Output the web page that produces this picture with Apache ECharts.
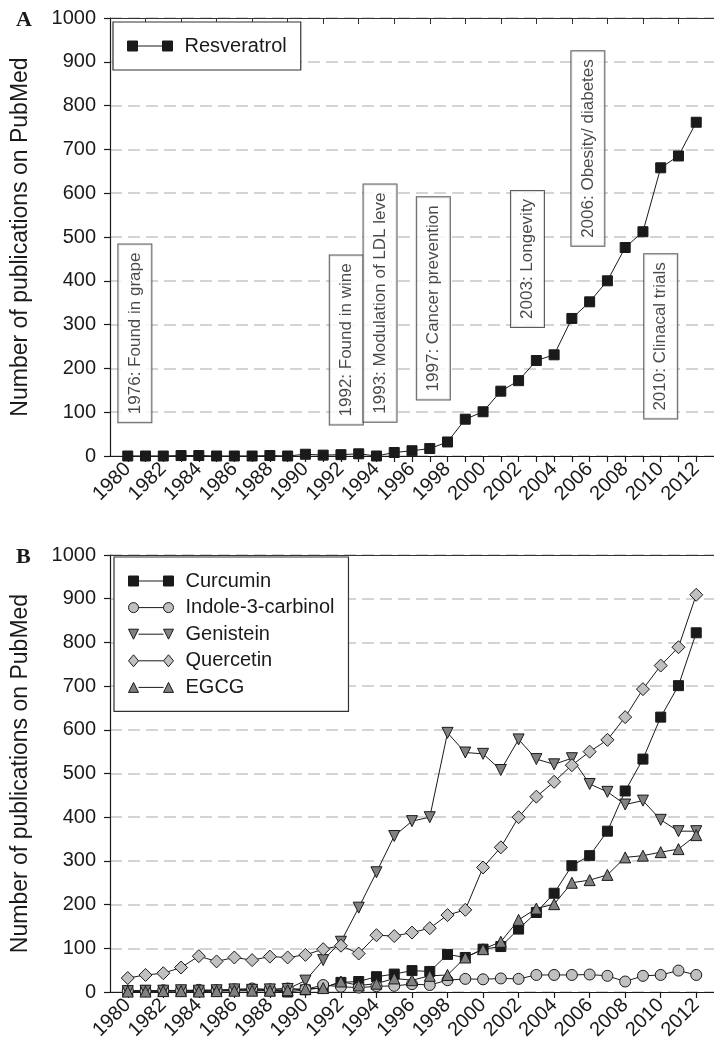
<!DOCTYPE html>
<html>
<head>
<meta charset="utf-8">
<script src="https://cdn.jsdelivr.net/npm/echarts@6/dist/echarts.min.js"></script>
<style>
html,body{margin:0;padding:0;background:#fff;}
#chart{width:714px;height:1044px;}
</style>
</head>
<body>
<div id="chart"></div>
<script>
const years = [1980,1981,1982,1983,1984,1985,1986,1987,1988,1989,1990,1991,1992,1993,1994,1995,1996,1997,1998,1999,2000,2001,2002,2003,2004,2005,2006,2007,2008,2009,2010,2011,2012];
const yTicks = [0,100,200,300,400,500,600,700,800,900,1000];
const labelYears = [1980,1982,1984,1986,1988,1990,1992,1994,1996,1998,2000,2002,2004,2006,2008,2010,2012];
const topTickYears = [1981,1983,1985,1987,1989,1991,1993,1995,1997,1999,2001,2003,2005,2007,2009,2011];

const resveratrol = [0,0,0,1,1,0,0,0,1,0, 4,2,3,5,0, 8,12,17,32,84, 101,148,172,218,231, 314,352,400,476,512, 658,685,762];
const curcumin    = [2,3,2,3,2,3,4,5,3,0, 5,10,22,24,35, 41,49,47,86,79, 98,104,144,182,226, 289,312,368,460,533, 629,701,822];
const indole      = [3,2,4,3,5,4,6,8,6,8, 6,16,12,10,13, 14,18,16,27,30, 29,31,30,39,39, 39,40,37,24,37, 39,49,39];
const genistein   = [2,3,3,4,3,4,6,5,6,7, 26,73,115,193,274, 357,391,400,593,548, 545,508,578,533,521, 535,476,458,429,438, 394,368,368];
const quercetin   = [32,39,43,56,82,70,79,73,81,79, 85,98,106,88,130, 128,136,146,176,188, 285,331,400,447,481, 519,550,577,629,693, 747,789,909];
const egcg        = [1,1,2,2,1,2,3,3,3,4, 7,9,24,15,19, 31,27,37,39,79, 98,115,165,191,201, 250,256,268,308,312, 320,327,359];

const annYears  = [1980.4, 1992.3, 1994.2, 1997.2, 2002.5, 2005.9, 2010.0];
const annValues = [280, 265, 349, 360, 450, 702, 273];
const annTexts  = ['1976: Found in grape','1992: Found in wine','1993: Modulation of LDL leve','1997: Cancer prevention','2003: Longevity','2006: Obesity/ diabetes','2010: Clinacal trials'];

const FONT = 'Liberation Sans, Arial, Helvetica, sans-serif';
const INK = '#1a1a1a';
const LIGHT = '#c0c0c0';
const DARK = '#808080';

const pair = vals => years.map((y, i) => [y, vals[i]]);
const plain = v => String(v);

const iconSquare = 'path://M0,1h10v10h-10z M10,6L35,6 M35,1h10v10h-10z';
const iconCircle = 'path://M0,6a5,5 0 1,0 10,0a5,5 0 1,0 -10,0z M10,6L35,6 M35,6a5,5 0 1,0 10,0a5,5 0 1,0 -10,0z';
const iconTriDown = 'path://M0,1h10l-5,10z M10,6L35,6 M35,1h10l-5,10z';
const iconDiamond = 'path://M5,0l5,6l-5,6l-5,-6z M10,6L35,6 M40,0l5,6l-5,6l-5,-6z';
const iconTriUp = 'path://M5,1l5,10h-10z M10,6L35,6 M40,1l5,10h-10z';

function bottomX(gridIndex, tickYears) {
  return {
    type: 'value', gridIndex, position: 'bottom', min: 1979, max: 2013,
    axisLine: {show: true, onZero: false, lineStyle: {color: INK, width: 1.2}},
    axisTick: {show: true, length: 6, inside: false, customValues: tickYears, lineStyle: {color: INK, width: 1.2}},
    axisLabel: {show: true, customValues: labelYears, formatter: plain, rotate: 45, margin: 10, fontSize: 20, fontFamily: FONT, color: INK},
    splitLine: {show: false}
  };
}
function topX(gridIndex, ticks) {
  return {
    type: 'value', gridIndex, position: 'top', min: 1979, max: 2013,
    axisLine: {show: true, onZero: false, lineStyle: {color: '#333', width: 1.2}},
    axisTick: ticks ? {show: true, inside: true, length: 6, customValues: topTickYears, lineStyle: {color: '#333'}} : {show: false},
    axisLabel: {show: false}, splitLine: {show: false}
  };
}
function leftY(gridIndex) {
  return {
    type: 'value', gridIndex, min: 0, max: 1000, interval: 100,
    name: 'Number of publications on PubMed', nameLocation: 'middle', nameGap: 78,
    nameTextStyle: {fontSize: 23, fontFamily: FONT, color: INK},
    axisLine: {show: true, lineStyle: {color: INK, width: 1.2}},
    axisTick: {show: true, length: 6, lineStyle: {color: INK, width: 1.2}},
    axisLabel: {fontSize: 20, fontFamily: FONT, color: INK, margin: 14, formatter: plain},
    splitLine: {show: true, lineStyle: {color: '#c6c6c6', width: 1.5, type: [12, 6]}}
  };
}
function lineSeries(name, vals, symbol, size, fill, axisIdx, rotate) {
  return {
    name, type: 'line', xAxisIndex: axisIdx, yAxisIndex: axisIdx === 0 ? 0 : 1,
    data: pair(vals), symbol, symbolSize: size, symbolRotate: rotate || 0, showAllSymbol: true,
    lineStyle: {color: INK, width: 1},
    itemStyle: {color: fill, borderColor: INK, borderWidth: 1},
    emphasis: {disabled: true}, animation: false
  };
}

const option = {
  animation: false,
  backgroundColor: '#fff',
  title: [
    {text: 'A', left: 11, top: 4, textStyle: {fontFamily: 'Liberation Serif, Times New Roman, serif', fontWeight: 'bold', fontSize: 22, color: INK}},
    {text: 'B', left: 11, top: 541, textStyle: {fontFamily: 'Liberation Serif, Times New Roman, serif', fontWeight: 'bold', fontSize: 22, color: INK}}
  ],
  grid: [
    {left: 110, top: 18, width: 609, height: 438, containLabel: false},
    {left: 110, top: 555, width: 609, height: 437, containLabel: false}
  ],
  xAxis: [bottomX(0, years), bottomX(1, labelYears), topX(0, true), topX(1, false)],
  yAxis: [leftY(0), leftY(1)],
  legend: [
    {
      left: 113, top: 22, orient: 'vertical', padding: [14, 14, 14, 14],
      borderColor: '#333', borderWidth: 1.2, backgroundColor: '#fff',
      itemWidth: 45, itemHeight: 12, itemGap: 6,
      textStyle: {fontSize: 20, fontFamily: FONT, color: INK, padding: [0, 0, 0, 7]},
      data: [{name: 'Resveratrol', icon: iconSquare, itemStyle: {color: INK, borderColor: INK, borderWidth: 1}}]
    },
    {
      left: 114, top: 557, orient: 'vertical', padding: [14, 14, 14, 14],
      borderColor: '#333', borderWidth: 1.2, backgroundColor: '#fff',
      itemWidth: 45, itemHeight: 12, itemGap: 6.6,
      textStyle: {fontSize: 20, fontFamily: FONT, color: INK, padding: [0, 0, 0, 7]},
      data: [
        {name: 'Curcumin', icon: iconSquare, itemStyle: {color: INK, borderColor: INK, borderWidth: 1}},
        {name: 'Indole-3-carbinol', icon: iconCircle, itemStyle: {color: LIGHT, borderColor: INK, borderWidth: 1}},
        {name: 'Genistein', icon: iconTriDown, itemStyle: {color: DARK, borderColor: INK, borderWidth: 1}},
        {name: 'Quercetin', icon: iconDiamond, itemStyle: {color: LIGHT, borderColor: INK, borderWidth: 1}},
        {name: 'EGCG', icon: iconTriUp, itemStyle: {color: DARK, borderColor: INK, borderWidth: 1}}
      ]
    }
  ],
  series: [
    lineSeries('Resveratrol', resveratrol, 'rect', 10, INK, 0),
    {
      name: 'annotations', type: 'scatter', xAxisIndex: 0, yAxisIndex: 0, silent: true,
      symbolSize: 0, z: 3,
      data: annYears.map((y, i) => ({value: [y, annValues[i]], name: annTexts[i]})),
      label: {
        show: true, position: 'inside', rotate: 90, formatter: '{b}',
        fontSize: 17, fontFamily: FONT, color: INK,
        backgroundColor: '#fff', borderColor: '#333', borderWidth: 1, padding: [8, 8]
      }
    },
    lineSeries('Curcumin', curcumin, 'rect', 10, INK, 1),
    lineSeries('Indole-3-carbinol', indole, 'circle', 11, LIGHT, 1),
    lineSeries('Genistein', genistein, 'triangle', 11, DARK, 1, 180),
    lineSeries('Quercetin', quercetin, 'diamond', 13, LIGHT, 1),
    lineSeries('EGCG', egcg, 'triangle', 11, DARK, 1)
  ]
};

const chart = echarts.init(document.getElementById('chart'), null, {renderer: 'canvas'});
chart.setOption(option);
</script>
</body>
</html>
